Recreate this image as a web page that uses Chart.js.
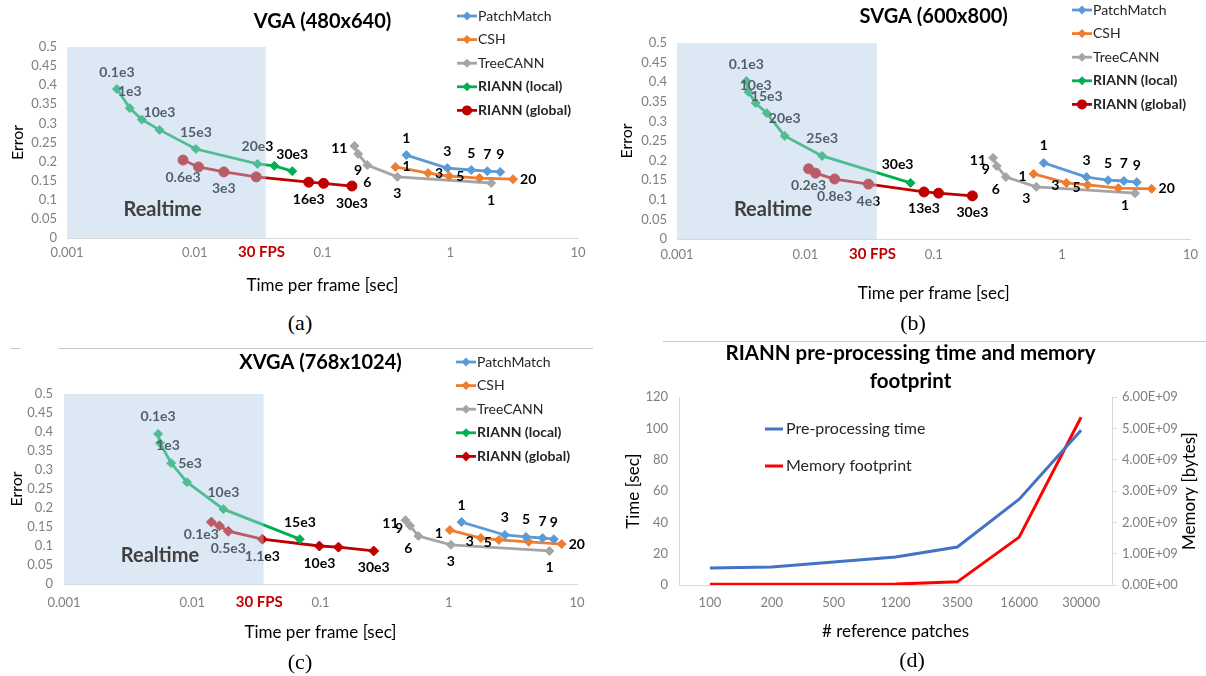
<!DOCTYPE html>
<html>
<head>
<meta charset="utf-8">
<script src="https://cdn.jsdelivr.net/npm/chart.js@4.4.1/dist/chart.umd.min.js"></script>
<style>
  body { margin: 0; background: #fff; width: 1206px; height: 676px; position: relative; overflow: hidden; }
  canvas { position: absolute; }
  .cap { position: absolute; font-family: "Liberation Serif", serif; font-size: 22px; color: #000; transform: translate(-50%, -50%); }
  .rule { position: absolute; height: 1px; background: #c8c8c8; }
</style>
</head>
<body>
<canvas id="vga" width="600" height="300" style="left:0;top:0"></canvas>
<canvas id="svga" width="606" height="310" style="left:600px;top:0"></canvas>
<canvas id="xvga" width="600" height="310" style="left:0;top:340px"></canvas>
<canvas id="prep" width="606" height="346" style="left:600px;top:330px"></canvas>

<div class="rule" style="left:10px;top:348px;width:10px"></div>
<div class="rule" style="left:58px;top:348px;width:535px"></div>
<div class="rule" style="left:663px;top:341px;width:543px"></div>
<div class="cap" style="left:300px;top:323px">(a)</div>
<div class="cap" style="left:913px;top:323px">(b)</div>
<div class="cap" style="left:300px;top:662px">(c)</div>
<div class="cap" style="left:912px;top:660px">(d)</div>

<script>
// ---- data ----
const timeTickLabels = ['0.001', '0.01', '0.1', '1', '10'];
const fps = 30;
const realtimeEnd = 0.036;

// VGA (480x640)
const vgaLocalX = [0.00246, 0.0031, 0.00385, 0.0053, 0.0102, 0.031, 0.042, 0.058];
const vgaLocalY = [0.39, 0.34, 0.31, 0.283, 0.233, 0.194, 0.189, 0.175];
const vgaLocalTxt = ['0.1e3', '1e3', '', '10e3', '15e3', '20e3', '', '30e3'];
const vgaGlobalX = [0.0081, 0.0107, 0.0169, 0.0303, 0.078, 0.102, 0.17];
const vgaGlobalY = [0.204, 0.186, 0.173, 0.16, 0.146, 0.143, 0.136];
const vgaGlobalTxt = ['0.6e3', '', '3e3', '', '16e3', '', '30e3'];
const vgaPmX = [0.453, 0.948, 1.46, 1.95, 2.46];
const vgaPmY = [0.217, 0.183, 0.178, 0.175, 0.173];
const vgaPmTxt = ['1', '3', '5', '7', '9'];
const vgaCshX = [0.372, 0.67, 0.98, 1.69, 3.1];
const vgaCshY = [0.186, 0.17, 0.162, 0.157, 0.154];
const vgaCshTxt = ['1', '3', '5', '', '20'];
const vgaTreeX = [0.178, 0.19, 0.224, 0.385, 2.09];
const vgaTreeY = [0.241, 0.22, 0.191, 0.16, 0.144];
const vgaTreeTxt = ['11', '9', '6', '3', '1'];

// SVGA (600x800)
const svgaLocalX = [0.00347, 0.0036, 0.0041, 0.005, 0.0069, 0.0135, 0.066];
const svgaLocalY = [0.403, 0.375, 0.347, 0.321, 0.263, 0.212, 0.143];
const svgaLocalTxt = ['0.1e3', '', '10e3', '15e3', '20e3', '25e3', '30e3'];
const svgaGlobalX = [0.0106, 0.012, 0.0169, 0.031, 0.084, 0.109, 0.2];
const svgaGlobalY = [0.179, 0.168, 0.153, 0.14, 0.12, 0.117, 0.11];
const svgaGlobalTxt = ['0.2e3', '', '0.8e3', '4e3', '13e3', '', '30e3'];
const svgaPmX = [0.72, 1.55, 2.28, 3.03, 3.82];
const svgaPmY = [0.194, 0.158, 0.15, 0.148, 0.145];
const svgaPmTxt = ['1', '3', '5', '7', '9'];
const svgaCshX = [0.60, 1.08, 1.58, 2.74, 4.98];
const svgaCshY = [0.166, 0.143, 0.138, 0.130, 0.128];
const svgaCshTxt = ['1', '3', '5', '', '20'];
const svgaTreeX = [0.29, 0.31, 0.365, 0.63, 3.7];
const svgaTreeY = [0.207, 0.186, 0.158, 0.133, 0.117];
const svgaTreeTxt = ['11', '9', '6', '3', '1'];

// XVGA (768x1024)
const xvgaLocalX = [0.00542, 0.0056, 0.00685, 0.0091, 0.0175, 0.069];
const xvgaLocalY = [0.395, 0.371, 0.318, 0.268, 0.197, 0.118];
const xvgaLocalTxt = ['0.1e3', '1e3', '5e3', '', '10e3', '15e3'];
const xvgaGlobalX = [0.0141, 0.0163, 0.0191, 0.0352, 0.098, 0.138, 0.26];
const xvgaGlobalY = [0.163, 0.153, 0.139, 0.118, 0.1, 0.097, 0.087];
const xvgaGlobalTxt = ['0.1e3', '', '0.5e3', '1.1e3', '10e3', '', '30e3'];
const xvgaPmX = [1.26, 2.74, 4.0, 5.4, 6.6];
const xvgaPmY = [0.163, 0.129, 0.124, 0.121, 0.118];
const xvgaPmTxt = ['1', '3', '5', '7', '9'];
const xvgaCshX = [1.02, 1.78, 2.46, 4.2, 7.6];
const xvgaCshY = [0.142, 0.121, 0.116, 0.111, 0.105];
const xvgaCshTxt = ['1', '3', '5', '', '20'];
const xvgaTreeX = [0.46, 0.50, 0.58, 1.04, 6.1];
const xvgaTreeY = [0.168, 0.153, 0.126, 0.103, 0.087];
const xvgaTreeTxt = ['11', '9', '6', '3', '1'];

// RIANN pre-processing
const patchCounts = ['100', '200', '500', '1200', '3500', '16000', '30000'];
const prepTime = [10.9, 11.5, 14.7, 17.9, 24.3, 54.8, 98.8];
const memBytes = [0.02e9, 0.02e9, 0.02e9, 0.03e9, 0.1e9, 1.53e9, 5.36e9];

// ---- styling ----
Chart.defaults.font.family = 'Lato, "Open Sans", sans-serif';
const COL = { pm: '#5b9bd5', csh: '#ed7d31', tree: '#a5a5a5', local: '#00b050', global: '#c00000' };
// where a point's text sits relative to the marker
const TXT_POS = {
  a: [0, -17, 'center'], b: [0, 17, 'center'], l: [-7, 3, 'right'], r: [7, 0, 'left'],
  bl: [-10, 12, 'center'], al: [-13, -18, 'center'], rc: [8, 2, 'center']
};

function series(label, color, xs, ys, txt, pos, shape, radius, bold) {
  return {
    label, data: xs.map((x, i) => ({ x, y: ys[i] })), showLine: true,
    borderColor: color, backgroundColor: color, borderWidth: 2.8,
    pointStyle: shape, pointRadius: radius, pointHoverRadius: radius, pointBorderWidth: 1,
    pointBackgroundColor: color, pointBorderColor: color,
    pointTexts: txt, pointTextPos: Array.isArray(pos) ? pos : txt.map(() => pos), boldLegend: bold
  };
}

const pointTextPlugin = {
  id: 'pointText',
  afterDatasetsDraw(chart) {
    const ctx = chart.ctx;
    ctx.save();
    ctx.font = 'bold 14px Lato';
    ctx.fillStyle = '#000';
    ctx.textBaseline = 'middle';
    chart.data.datasets.forEach((ds, i) => {
      if (!ds.pointTexts) return;
      const meta = chart.getDatasetMeta(i);
      ds.pointTexts.forEach((t, j) => {
        if (!t) return;
        const el = meta.data[j];
        const [dx, dy, align] = TXT_POS[ds.pointTextPos[j]];
        ctx.textAlign = align;
        ctx.fillText(t, el.x + dx, el.y + dy);
      });
    });
    ctx.restore();
  }
};

const zonePlugin = {
  id: 'zone',
  afterDatasetsDraw(chart, args, opts) {
    if (!opts.end) return;
    const { ctx, chartArea: a, scales: { x, y } } = chart;
    const xr = x.getPixelForValue(opts.end);
    const yt = y.getPixelForValue(0.5), yb = y.getPixelForValue(0);
    ctx.save();
    ctx.fillStyle = 'rgba(177,204,231,0.45)';
    ctx.fillRect(a.left, yt, xr - a.left, yb - yt);
    ctx.textAlign = 'center';
    ctx.textBaseline = 'middle';
    ctx.font = 'bold 20px Lato';
    ctx.fillStyle = '#404040';
    ctx.fillText('Realtime', x.getPixelForValue(0.0056), y.getPixelForValue(0.075));
    ctx.font = 'bold 15px Lato';
    ctx.fillStyle = '#c00000';
    ctx.fillText(fps + ' FPS', x.getPixelForValue(1 / fps), a.bottom + opts.fpsDy);
    ctx.restore();
  }
};

function marker(ctx, style, r, x, y) {
  ctx.beginPath();
  if (style === 'circle') {
    ctx.arc(x, y, r, 0, Math.PI * 2);
  } else {
    ctx.moveTo(x, y - r); ctx.lineTo(x + r, y); ctx.lineTo(x, y + r); ctx.lineTo(x - r, y); ctx.closePath();
  }
  ctx.fill();
}

const legendPlugin = {
  id: 'boxLegend',
  afterDraw(chart, args, opts) {
    if (opts.x === undefined) return;
    const ctx = chart.ctx;
    ctx.save();
    ctx.textBaseline = 'middle';
    ctx.textAlign = 'left';
    chart.data.datasets.forEach((ds, i) => {
      const y = opts.y + i * opts.dy;
      ctx.strokeStyle = ds.borderColor;
      ctx.fillStyle = ds.borderColor;
      ctx.lineWidth = ds.borderWidth;
      ctx.beginPath();
      ctx.moveTo(opts.x, y);
      ctx.lineTo(opts.x + opts.len, y);
      ctx.stroke();
      if (ds.pointRadius) marker(ctx, ds.pointStyle, ds.pointRadius, opts.x + opts.len / 2, y);
      ctx.fillStyle = '#262626';
      ctx.font = (ds.boldLegend ? 'bold ' : '') + opts.size + 'px Lato';
      ctx.fillText(ds.label, opts.x + opts.len + opts.gap, y);
    });
    ctx.restore();
  }
};

// right-hand axis title reading bottom-to-top, as in the original
const rightTitlePlugin = {
  id: 'rightTitle',
  afterDraw(chart, args, opts) {
    if (!opts.text) return;
    const s = chart.scales[opts.axis];
    const ctx = chart.ctx;
    ctx.save();
    ctx.translate(s.right - opts.offset, (s.top + s.bottom) / 2);
    ctx.rotate(-Math.PI / 2);
    ctx.textAlign = 'center';
    ctx.textBaseline = 'middle';
    ctx.font = '17px Lato';
    ctx.fillStyle = '#000';
    ctx.fillText(opts.text, 0, 0);
    ctx.restore();
  }
};

function timingChart(id, cfg) {
  return new Chart(document.getElementById(id), {
    type: 'scatter',
    data: { datasets: cfg.datasets },
    options: {
      responsive: false,
      animation: false,
      layout: { padding: cfg.padding },
      plugins: {
        legend: { display: false },
        tooltip: { enabled: false },
        title: {
          display: true, text: cfg.title, fullSize: false, color: '#000',
          font: { size: 20, weight: 'bold', lineHeight: 1.15 }, padding: cfg.titlePad
        },
        zone: { end: realtimeEnd, fpsDy: cfg.xTickPad + 7 },
        boxLegend: { x: cfg.legend[0], y: cfg.legend[1], dy: 23.6, len: 20, gap: 1, size: 14 }
      },
      scales: {
        x: {
          type: 'logarithmic', min: 0.001, max: 10,
          afterFit: s => { s.height = cfg.xHeight; },
          grid: { display: false, drawTicks: false },
          border: { display: true, color: '#d9d9d9' },
          ticks: {
            autoSkip: false, maxRotation: 0, padding: cfg.xTickPad, color: '#7f7f7f', font: { size: 13 },
            callback: v => {
              const e = Math.log10(v), r = Math.round(e);
              return Math.abs(e - r) < 1e-6 ? timeTickLabels[r + 3] : '';
            }
          },
          title: { display: true, text: 'Time per frame [sec]', color: '#000', font: { size: 17 }, padding: { top: 0, bottom: cfg.xTitlePad } }
        },
        y: {
          min: 0, max: 0.5,
          afterFit: s => { s.width = cfg.yWidth; },
          grid: { display: false, drawTicks: false },
          border: { display: false },
          ticks: { stepSize: 0.05, autoSkip: false, padding: cfg.yTickPad, color: '#7f7f7f', font: { size: 13 }, callback: v => String(Math.round(v * 100) / 100) },
          title: { display: true, text: 'Error', color: '#000', font: { size: 16 }, padding: { top: cfg.yTitlePad, bottom: 0 } }
        }
      }
    },
    plugins: [pointTextPlugin, zonePlugin, legendPlugin]
  });
}

timingChart('vga', {
  title: 'VGA (480x640)',
  padding: { left: 0, right: 22, top: 0, bottom: 0 },
  titlePad: { top: 10, bottom: 14 },
  yWidth: 67, yTickPad: 10, yTitlePad: 8,
  xHeight: 62, xTickPad: 7, xTitlePad: 4,
  legend: [457, 16],
  datasets: [
    series('PatchMatch', COL.pm, vgaPmX, vgaPmY, vgaPmTxt, 'a', 'rectRot', 4.5, false),
    series('CSH', COL.csh, vgaCshX, vgaCshY, vgaCshTxt, 'r', 'rectRot', 4.5, false),
    series('TreeCANN', COL.tree, vgaTreeX, vgaTreeY, vgaTreeTxt, ['l', 'b', 'b', 'b', 'b'], 'rectRot', 4.5, false),
    series('RIANN (local)', COL.local, vgaLocalX, vgaLocalY, vgaLocalTxt, 'a', 'rectRot', 4.5, true),
    series('RIANN (global)', COL.global, vgaGlobalX, vgaGlobalY, vgaGlobalTxt, 'b', 'circle', 5, true)
  ]
});

timingChart('svga', {
  title: 'SVGA (600x800)',
  padding: { left: 10, right: 11, top: 0, bottom: 0 },
  titlePad: { top: 5, bottom: 15 },
  yWidth: 67, yTickPad: 10, yTitlePad: 7,
  xHeight: 71, xTickPad: 8, xTitlePad: 6,
  legend: [472, 10],
  datasets: [
    series('PatchMatch', COL.pm, svgaPmX, svgaPmY, svgaPmTxt, 'a', 'rectRot', 4.5, false),
    series('CSH', COL.csh, svgaCshX, svgaCshY, svgaCshTxt, ['l', 'l', 'l', 'l', 'r'], 'rectRot', 4.5, false),
    series('TreeCANN', COL.tree, svgaTreeX, svgaTreeY, svgaTreeTxt, ['l', 'l', 'bl', 'bl', 'bl'], 'rectRot', 4.5, false),
    series('RIANN (local)', COL.local, svgaLocalX, svgaLocalY, svgaLocalTxt, ['a', 'a', 'a', 'a', 'a', 'a', 'al'], 'rectRot', 4.5, true),
    series('RIANN (global)', COL.global, svgaGlobalX, svgaGlobalY, svgaGlobalTxt, 'b', 'circle', 5, true)
  ]
});

timingChart('xvga', {
  title: 'XVGA (768x1024)',
  padding: { left: 0, right: 23, top: 0, bottom: 0 },
  titlePad: { top: 11, bottom: 20 },
  yWidth: 64, yTickPad: 11, yTitlePad: 7,
  xHeight: 66, xTickPad: 11, xTitlePad: 7,
  legend: [456, 22],
  datasets: [
    series('PatchMatch', COL.pm, xvgaPmX, xvgaPmY, xvgaPmTxt, 'a', 'rectRot', 4.5, false),
    series('CSH', COL.csh, xvgaCshX, xvgaCshY, xvgaCshTxt, ['l', 'l', 'l', 'l', 'r'], 'rectRot', 4.5, false),
    series('TreeCANN', COL.tree, xvgaTreeX, xvgaTreeY, xvgaTreeTxt, ['l', 'l', 'bl', 'b', 'b'], 'rectRot', 4.5, false),
    series('RIANN (local)', COL.local, xvgaLocalX, xvgaLocalY, xvgaLocalTxt, ['a', 'rc', 'r', 'a', 'a', 'a'], 'rectRot', 4.5, true),
    series('RIANN (global)', COL.global, xvgaGlobalX, xvgaGlobalY, xvgaGlobalTxt, ['bl', 'b', 'b', 'b', 'b', 'b', 'b'], 'rectRot', 5, true)
  ]
});

function sci(v) {
  if (v === 0) return '0.00E+00';
  const e = Math.floor(Math.log10(v) + 1e-9);
  return (v / Math.pow(10, e)).toFixed(2) + 'E+' + String(e).padStart(2, '0');
}

new Chart(document.getElementById('prep'), {
  type: 'line',
  data: {
    labels: patchCounts,
    datasets: [
      { label: 'Pre-processing time', data: prepTime, yAxisID: 'y', borderColor: '#4472c4', backgroundColor: '#4472c4', borderWidth: 3, pointRadius: 0, tension: 0 },
      { label: 'Memory footprint', data: memBytes, yAxisID: 'y1', borderColor: '#ff0000', backgroundColor: '#ff0000', borderWidth: 3, pointRadius: 0, tension: 0 }
    ]
  },
  options: {
    responsive: false,
    animation: false,
    layout: { padding: { left: 15, right: 0, top: 0, bottom: 31 } },
    plugins: {
      legend: { display: false },
      tooltip: { enabled: false },
      title: {
        display: true, text: ['RIANN pre-processing time and memory', 'footprint'], color: '#000',
        font: { size: 20.5, weight: 'bold', lineHeight: 1.37 }, padding: { top: 9, bottom: 2 }
      },
      boxLegend: { x: 165, y: 99, dy: 37, len: 18, gap: 3, size: 16 },
      rightTitle: { axis: 'y1', text: 'Memory [bytes]', offset: 16 }
    },
    scales: {
      x: {
        offset: true,
        afterFit: s => { s.height = 60; },
        grid: { display: false, drawTicks: false },
        border: { display: true, color: '#d9d9d9' },
        ticks: { padding: 10, color: '#7f7f7f', font: { size: 13 }, maxRotation: 0 },
        title: { display: true, text: '# reference patches', color: '#000', font: { size: 17 }, padding: { top: 0, bottom: 3 } }
      },
      y: {
        position: 'left', min: 0, max: 120,
        afterFit: s => { s.width = 64; },
        grid: { display: false, drawTicks: false },
        border: { display: true, color: '#d9d9d9' },
        ticks: { stepSize: 20, padding: 11, color: '#7f7f7f', font: { size: 13 } },
        title: { display: true, text: 'Time [sec]', color: '#000', font: { size: 17 }, padding: { top: 8, bottom: 0 } }
      },
      y1: {
        position: 'right', min: 0, max: 6e9,
        afterFit: s => { s.width = 94; },
        grid: { drawOnChartArea: false, drawTicks: true, tickLength: 5, color: '#d9d9d9' },
        border: { display: true, color: '#d9d9d9' },
        ticks: { stepSize: 1e9, padding: 5, color: '#7f7f7f', font: { size: 13 }, callback: v => sci(v) }
      }
    }
  },
  plugins: [legendPlugin, rightTitlePlugin]
});
</script>
</body>
</html>
